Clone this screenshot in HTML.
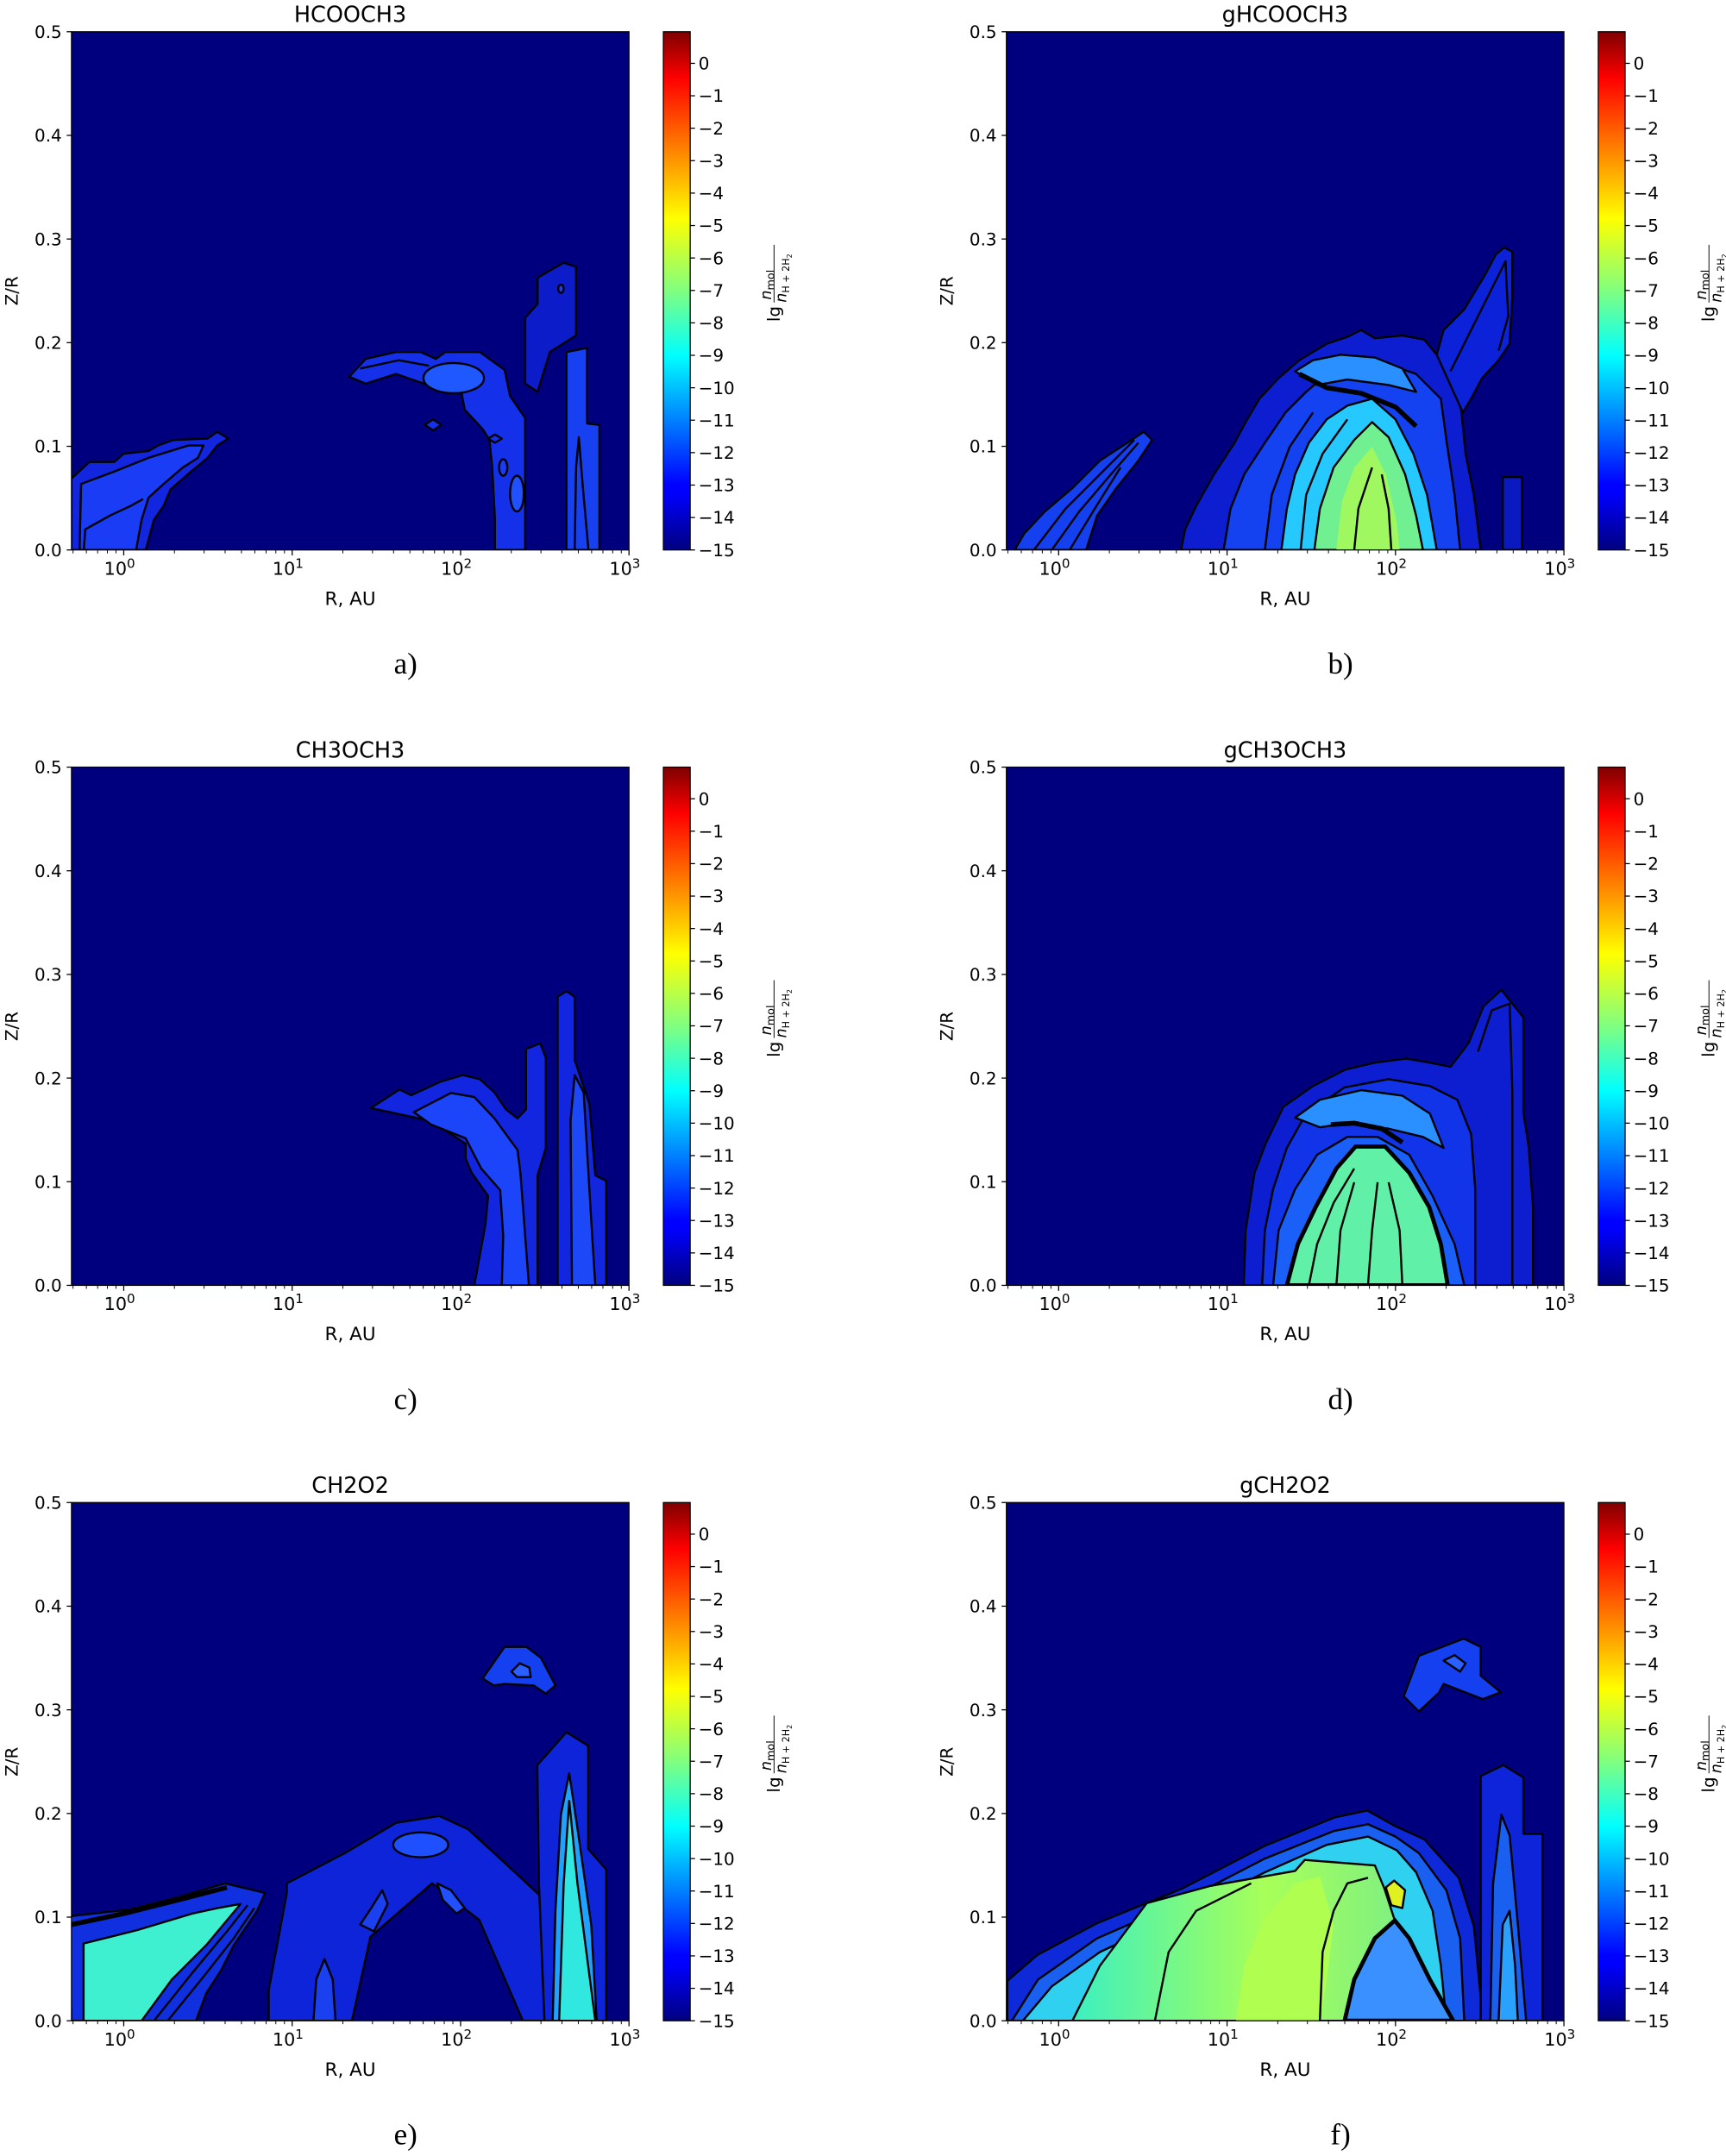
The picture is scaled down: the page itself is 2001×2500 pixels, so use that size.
<!DOCTYPE html>
<html><head><meta charset="utf-8"><style>
html,body{margin:0;padding:0;background:#fff;width:2001px;height:2500px;overflow:hidden}
svg{display:block}
text{font-family:"DejaVu Sans","Liberation Sans",sans-serif;fill:#000}
.k{stroke:#000;stroke-width:1.5;stroke-linejoin:round}
.l{stroke:#000;stroke-width:1.5;fill:none;stroke-linejoin:round}
.t{stroke:#000;stroke-width:3.5;fill:none;stroke-linejoin:round}
</style></head><body>
<svg id="s" xmlns="http://www.w3.org/2000/svg" width="2001" height="2500" viewBox="0 0 1255.4 1568.3">
<defs>
<linearGradient id="jet" x1="0" y1="1" x2="0" y2="0">
<stop offset="0" stop-color="#00007f"/><stop offset="0.11" stop-color="#0000ff"/><stop offset="0.125" stop-color="#0000ff"/>
<stop offset="0.375" stop-color="#00ffff"/><stop offset="0.5" stop-color="#80ff80"/><stop offset="0.64" stop-color="#ffff00"/>
<stop offset="0.91" stop-color="#ff0000"/><stop offset="1" stop-color="#7f0000"/></linearGradient>
<linearGradient id="gr" x1="0" y1="0" x2="1" y2="0"><stop offset="0" stop-color="#3cf0c0"/><stop offset="0.6" stop-color="#a8ff58"/><stop offset="1" stop-color="#80f080"/></linearGradient>
<clipPath id="cp"><rect x="52" y="23" width="405.5" height="377"/></clipPath>
</defs>
</svg>
<script>
const S=document.getElementById('s');
const shapes=[
// a
`<polygon class="k" fill="#1226e0" points="52,348 65,336 83,336 90,330 108,328 115,324 126,320 151,319 158,314 166,319 158,324 151,333 139,343 124,356 119,368 112,378 106,400 52,400"/>
<polygon class="k" fill="#1a3cf5" points="58,394 59,352 83,343 108,333 137,324 148,324 144,333 133,340 119,352 108,362 103,378 99,400 58,400"/>
<polyline class="l" points="61,400 62,385 80,375 95,368 104,363"/>
<polygon class="k" fill="#1430e8" points="254,274 266,261 288,256 306,256 317,261 324,256 349,256 367,269 371,288 382,304 382,400 360,400 360,378 358,340 356,320 351,312 338,298 335,282 317,282 288,272 266,279"/>
<ellipse class="k" fill="#2058ff" cx="330" cy="275" rx="22" ry="11"/>
<polyline class="l" points="262,268 290,262 312,266"/>
<polygon class="k" fill="#1430e8" points="309,309 315,305 321,309 315,313"/>
<polygon class="k" fill="#1430e8" points="355,319 360,316 365,319 360,322"/>
<ellipse class="k" fill="#1a3cf5" cx="366" cy="340" rx="3" ry="6"/>
<ellipse class="k" fill="#2050ff" cx="376" cy="359" rx="5" ry="13"/>
<polygon class="k" fill="#0c1cc8" points="396,199 410,191 419,194 419,244 400,256 391,285 382,279 382,231 391,221 391,202"/>
<ellipse class="k" fill="#1a3cf5" cx="408" cy="210" rx="2" ry="3"/>
<polygon class="k" fill="#1640f0" points="412,256 427,253 427,308 436,309 436,400 412,400"/>
<polyline class="l" points="418,400 419,340 421,318 424,355 428,400"/>`,
// b
`<polygon class="k" fill="#1540f0" points="58,400 65,388 80,372 100,355 120,335 140,322 152,314 158,320 148,335 132,355 118,375 110,400"/>
<polyline class="l" points="72,400 95,370 120,345 145,320"/><polyline class="l" points="85,400 105,372 128,345 148,322"/><polyline class="l" points="98,400 115,372 135,340"/>
<polygon class="k" fill="#0c1ed0" points="179,400 182,385 190,368 203,345 218,322 226,307 236,290 250,275 265,262 285,250 300,245 310,240 320,246 340,244 356,247 365,258 375,268 380,280 383,300 386,330 392,360 397,400"/>
<polygon class="k" fill="#0c22d8" points="365,258 370,240 385,225 400,200 408,185 414,180 420,183 420,215 418,250 410,262 398,275 390,290 384,300"/>
<polyline class="l" points="375,270 390,240 405,210 415,190 417,230 410,255"/>
<polygon class="k" fill="#1442f0" points="210,400 215,370 225,345 240,322 255,300 270,285 290,268 310,262 330,265 350,272 368,290 372,320 378,360 382,400"/>
<polygon class="k" fill="#2a90ff" points="262,270 275,262 295,258 320,260 340,268 350,285 330,280 300,276 278,280"/>
<polyline class="t" points="265,272 285,282 310,286 335,296 350,310"/>
<polygon class="k" fill="#25c8ff" points="252,400 256,370 262,345 272,322 285,305 300,295 318,290 335,305 348,330 358,360 365,400"/>
<polygon class="k" fill="#70f090" points="276,400 280,370 290,340 305,320 318,307 330,318 342,345 350,375 355,400"/>
<polygon fill="#a0f860" points="292,400 296,365 305,340 318,325 328,345 336,380 338,400"/>
<polyline class="l" points="305,400 308,370 318,340"/><polyline class="l" points="332,400 330,370 325,345"/>
<polyline class="l" points="266,400 270,360 282,330 300,305"/><polyline class="l" points="240,400 245,360 258,325 275,300"/>
<polygon class="k" fill="#0a1ac0" points="413,400 413,347 427,347 427,400"/>`,
// c
`<polygon class="k" fill="#1226e0" points="269.7,271 290.6,257.5 299,261.7 320,252 336.6,247 349,250 359.6,259.6 368,272 376.4,278.5 382.6,272 382.6,228 393,224 397,234.5 397,300 391,320 391,400 345,400 353,356 355,335 343,318 338.7,307.7 338.7,297 313.6,280.5"/>
<polygon class="k" fill="#1c44f8" points="301,274 328,260 345,263 359.6,278.5 376.4,301.5 378.5,318 384.7,400 365,400 366,364 363.8,330.7 350,315 338.7,293 313.6,283"/>
<polygon class="k" fill="#1226e0" points="405.6,400 405.6,190 412,186 418,190 418,236 428.7,268 433,320 441,324 441,400"/>
<polygon class="k" fill="#1c48f8" points="418,247 424.5,259.6 430.7,364 433,400 416,400 415,280"/>`,
// d
`<polygon class="k" fill="#0c1ed0" points="224.6,400 226,360 232.5,318 240.5,297 253.5,270 275,255 298.6,243 320,238 343,235 360,238 375,241 388,224 399,197 412,185 428,205 428,274 432,300 435,343 435,400"/>
<polygon class="k" fill="#1234e8" points="238,400 240,360 246,330 256,300 270,275 298,256 330,250 360,255 380,265 390,290 393,330 393,400"/>
<polyline class="l" points="395,230 405,200 418,195 420,260 420,400"/>
<polygon class="k" fill="#2a90ff" points="262,278 280,265 310,258 340,262 360,275 370,300 355,292 330,286 300,282 280,285"/>
<polyline class="t" points="288,283 305,282 325,286 340,296"/>
<polygon class="k" fill="#1a60f8" points="246,400 250,360 262,330 278,305 300,292 322,292 345,305 362,335 378,370 385,400"/>
<polygon fill="#60f0a8" style="stroke:#000;stroke-width:3" points="256,400 264,370 277,343 292,315 306,299 327.5,299 345,318 359.5,343 368,370 373,400"/>
<polyline class="l" points="272,400 278,370 290,340 305,315"/><polyline class="l" points="292,400 295,360 305,325"/><polyline class="l" points="315,400 318,360 322,325"/><polyline class="l" points="340,400 338,360 330,325"/>`,
// e
`<polygon class="k" fill="#1030e0" points="50,324 95,319 130,310 163.7,300 192.8,307 187,320 170,345 161,363 150,380 142.6,400 52,400"/>
<polygon class="k" fill="#3ef0d0" points="60.8,400 60.8,343.8 100,334 140,322 158.5,318 175,315 150,345 125,370 103,400"/>
<polyline class="t" points="52,330 90,322 130,312 165,303"/>
<polyline class="l" points="112,400 140,365 165,335 180,316"/><polyline class="l" points="122,400 148,368 170,340 185,318"/>
<polygon class="k" fill="#0e24d8" points="195.4,400 195.4,378 208.6,307 208.6,300 250.9,278 288,256 319.5,251 340.7,260.8 367,285 393.5,309.6 398,340 404,400 380.3,400 348.6,326.7 314.3,300 269.4,339 256,400"/>
<ellipse class="k" fill="#1e50ff" cx="306" cy="272" rx="20" ry="9"/>
<polygon class="k" fill="#1a40f0" points="228,400 230,370 236,355 242,370 244,400"/>
<polygon class="k" fill="#1a40f0" points="262,330 270,318 278,305 282,315 272,335"/>
<polygon class="k" fill="#2050ff" points="318,300 328,305 338,318 332,322 322,312"/>
<polygon class="k" fill="#0e24d8" points="390.8,214 412,190 427.8,200 427.8,275 441,290 441,400 396,400 392,300"/>
<polygon class="k" fill="#20a0ff" points="402,400 404,320 408,250 414,220 420,260 430,330 434,400"/>
<polygon class="k" fill="#30e8e0" points="406.7,400 410,300 414,240 420,300 433,400"/>
<polygon class="k" fill="#1540f0" points="351,151 367,128 383,128 393.5,136 404,156 397,162 388,156 367,155 359,156"/>
<polygon class="k" fill="#2a60ff" points="372,146 378,140 385,143 386,150 376,150"/>`,
// f
`<polygon class="k" fill="#0e2ad8" points="52.6,400 52.6,371 74.7,352 118,329 179.5,304 240.4,272.5 291,252 314.5,247 334,258 356,268 381,296 392,331 397,383 397,400"/>
<polygon class="k" fill="#1a60f0" points="56,400 75,370 118,340 180,313 240,282 290,262 315,257 335,266 352,278 372,305 382,340 385,400"/>
<polygon class="k" fill="#30d0f0" points="64,400 85,375 120,350 180,322 240,292 285,272 315,266 336,276 350,292 362,320 368,360 372,400"/>
<polygon class="k" fill="url(#gr)" points="100,400 120,360 154,314.5 200,302 262,291 269,283 320,287 327,304 334.5,327 330,360 325,400"/>
<polygon fill="#b0ff50" points="219,400 225,360 240,325 262,300 280,295 290,330 285,370 280,400"/>
<polyline class="l" points="160,400 170,350 190,320 230,300"/><polyline class="l" points="280,400 282,350 290,320 300,300 315,296"/>
<polygon fill="#3a90ff" style="stroke:#000;stroke-width:3" points="298,400 305,370 320,340 334.5,327 345,340 360,370 377,400"/>
<polygon class="k" fill="#e0f020" points="328,303 334,298 342,305 340,318 332,316"/>
<polygon class="k" fill="#0e24d8" points="397,400 397,222 413.5,214 428,223 428,264 442,264 442,400"/>
<polygon class="k" fill="#1a60f0" points="404,400 406,300 412,250 418,265 424,330 430,400"/>
<polygon class="k" fill="#2aa0ff" points="410,400 413,330 418,320 422,360 424,400"/>
<polygon class="k" fill="#1540f0" points="341,164 352,134.5 384.6,122 397,128 397,149 411.5,161 398.5,166 370,155 366.5,161.5 352,175"/>
<polygon class="k" fill="#2a60ff" points="370,138 378,134 386,140 382,146"/>`
];
const titles=['HCOOCH3','gHCOOCH3','CH3OCH3','gCH3OCH3','CH2O2','gCH2O2'];
const labs=['a)','b)','c)','d)','e)','f)'];
let h='';
for(let i=0;i<6;i++){
 const dx=(i%2)*680, dy=Math.floor(i/2)*535;
 h+=`<g transform="translate(${dx},${dy})">`;
 h+=`<rect x="52" y="23" width="405.5" height="377" fill="#00007f"/>`;
 h+=`<g clip-path="url(#cp)">${shapes[i]}</g>`;
 h+=`<rect x="52" y="23" width="405.5" height="377" fill="none" stroke="#000" stroke-width="0.8"/>`;
 for(let k=0;k<=5;k++){const y=400-k*75.4;h+=`<line x1="48.5" x2="52" y1="${y}" y2="${y}" stroke="#000" stroke-width="0.8"/><text x="45" y="${y+4.5}" font-size="12.5" text-anchor="end">0.${k}</text>`;}
 for(let d=-1;d<=2;d++)for(let m=2;m<=9;m++){const x=90+(d+Math.log10(m))*122.5;if(x>=52&&x<=457.5)h+=`<line x1="${x}" x2="${x}" y1="400" y2="402.5" stroke="#000" stroke-width="0.6"/>`;}
 for(let k=0;k<=3;k++){const x=90+k*122.5;h+=`<line x1="${x}" x2="${x}" y1="400" y2="404" stroke="#000" stroke-width="0.8"/><text x="${x-3}" y="418" font-size="13" text-anchor="middle">10<tspan dy="-5" font-size="9.5">${k}</tspan></text>`;}
 h+=`<text x="254.75" y="16" font-size="16" text-anchor="middle">${titles[i]}</text>`;
 h+=`<text x="254.75" y="440" font-size="13.5" text-anchor="middle">R, AU</text>`;
 h+=`<text transform="translate(13,211.5) rotate(-90)" font-size="12.5" text-anchor="middle">Z/R</text>`;
 h+=`<rect x="482.5" y="23" width="19.5" height="377" fill="url(#jet)" stroke="#000" stroke-width="0.8"/>`;
 for(let v=0;v<=15;v++){const y=400-(15-v)*23.6;h+=`<line x1="502" x2="505.5" y1="${y}" y2="${y}" stroke="#000" stroke-width="0.8"/><text x="508" y="${y+4.5}" font-size="12.5">${v?'\u2212'+v:'0'}</text>`;}
 h+=`<g transform="translate(563,208) rotate(-90)"><text x="-26" y="4" font-size="12.5">lg</text><text x="-10" y="-2" font-size="11" font-style="italic">n<tspan font-style="normal" font-size="8" dy="2">mol</tspan></text><line x1="-12" x2="30" y1="0" y2="0" stroke="#000" stroke-width="0.6"/><text x="-12" y="9" font-size="11" font-style="italic">n<tspan font-style="normal" font-size="7" dy="2">H + 2H</tspan><tspan font-style="normal" font-size="5" dy="2">2</tspan></text></g>`;
 h+=`<text x="295" y="490" font-size="22" text-anchor="middle" style="font-family:'Liberation Serif','DejaVu Serif',serif">${labs[i]}</text>`;
 h+=`</g>`;
}
S.insertAdjacentHTML('beforeend',h);
</script>
</body></html>
